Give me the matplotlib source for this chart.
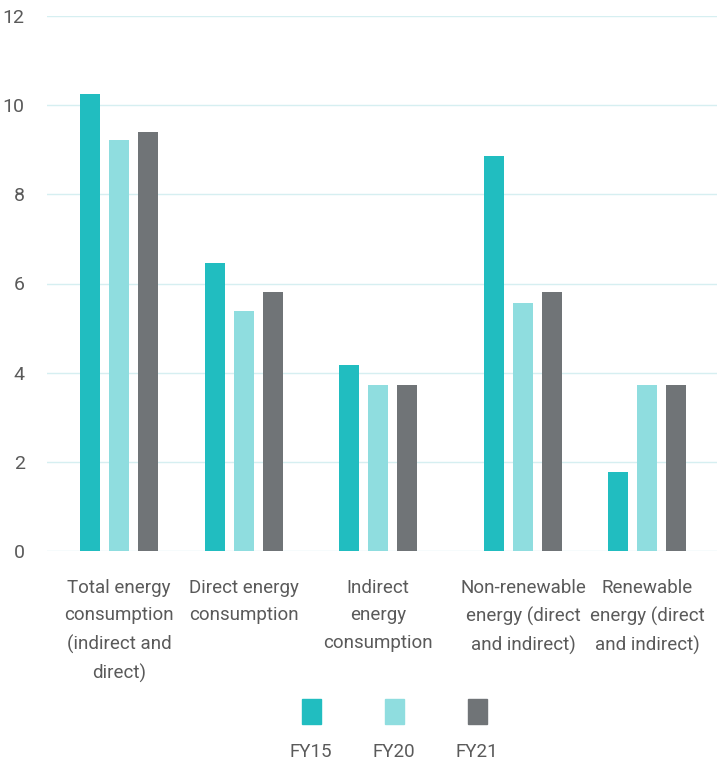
import numpy as np
import matplotlib
matplotlib.use("Agg")
import matplotlib.pyplot as plt
from matplotlib.patches import Rectangle

plt.rcParams["font.family"] = ["Roboto", "DejaVu Sans"]

categories = ["Total energy\nconsumption\n(indirect and\ndirect)",
              "Direct energy\nconsumption",
              "Indirect\nenergy\nconsumption",
              "Non-renewable\nenergy (direct\nand indirect)",
              "Renewable\nenergy (direct\nand indirect)"]
years = ["FY15", "FY20", "FY21"]
fy15 = [10.24, 6.45, 4.18, 8.85, 1.77]
fy20 = [9.22, 5.38, 3.72, 5.56, 3.72]
fy21 = [9.40, 5.80, 3.72, 5.80, 3.72]
yticks = [0, 2, 4, 6, 8, 10, 12]

colors = ["#21bdc0", "#8fdddf", "#707477"]
txt = "#5a5a5a"

# layout (pixel-like x units)
centers = np.array([119, 244, 378, 523, 647])
step = 29
width = 20

fig = plt.figure(figsize=(7.17, 7.63), dpi=100)
ax = fig.add_axes([47 / 717, 1 - 551 / 763, 670 / 717, 535 / 763])

for i, vals in enumerate([fy15, fy20, fy21]):
    ax.bar(centers + (i - 1) * step, vals, width=width, color=colors[i], zorder=3)

ax.set_xlim(47, 717)
ax.set_ylim(0, 12)
ax.set_yticks(yticks)
ax.set_yticklabels([str(t) for t in yticks], fontsize=14, color=txt)
ax.grid(axis="y", color="#d6eff1", linewidth=1, zorder=0)
ax.set_xticks(centers)
ax.set_xticklabels(categories, fontsize=13.5, color=txt, linespacing=1.68)
ax.tick_params(axis="x", length=0, pad=20)
ax.tick_params(axis="y", length=0, pad=16)
for s in ax.spines.values():
    s.set_visible(False)

# legend: square above label
leg_x = [311, 394, 477]
for x, c, lab in zip(leg_x, colors, years):
    fig.add_artist(Rectangle(((x - 9.5) / 717, 1 - 724 / 763), 19 / 717, 25 / 763,
                             transform=fig.transFigure, color=c))
    fig.text(x / 717, 1 - 752 / 763, lab, ha="center", va="center",
             fontsize=13.5, color=txt)

fig.savefig("out.png", dpi=100, facecolor="white")
